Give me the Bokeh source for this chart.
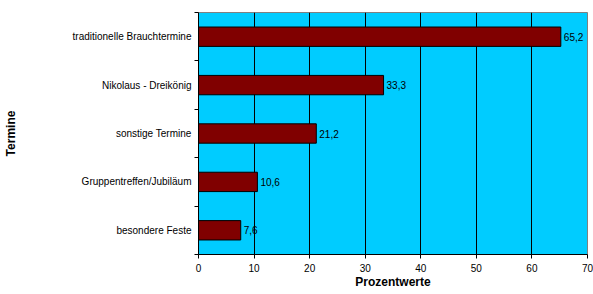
from bokeh.plotting import figure
from bokeh.models import Range1d, FixedTicker, ColumnDataSource
from bokeh.embed import file_html
from bokeh.resources import INLINE
from bokeh.core.properties import value

categories = ["traditionelle Brauchtermine", "Nikolaus - Dreikönig", "sonstige Termine",
              "Gruppentreffen/Jubiläum", "besondere Feste"]
values = [65.2, 33.3, 21.2, 10.6, 7.6]
x_ticks = [0, 10, 20, 30, 40, 50, 60, 70]

n = len(categories)
ypos = [i + 0.5 for i in range(n)]
labels = [f"{v:.1f}".replace(".", ",") for v in values]
src = ColumnDataSource(dict(y=ypos, v=values, lab=labels))

FONT = "Liberation Sans"

p = figure(width=593, height=294, output_backend="svg", toolbar_location=None,
           x_range=Range1d(0, 70), y_range=Range1d(n, 0),
           min_border_left=198, min_border_right=6, min_border_top=12, min_border_bottom=40)
p.background_fill_color = "#00CCFF"
p.border_fill_color = "white"
p.outline_line_color = "#808080"

p.hbar(y="y", left=0, right="v", height=0.4, source=src,
       fill_color="#800000", line_color="black", line_width=1)
p.text(x="v", y="y", text="lab", source=src, x_offset=3,
       text_baseline="middle", text_align="left", text_font=value(FONT),
       text_font_size="10px", text_color="black")

# x axis
p.xaxis.ticker = FixedTicker(ticks=x_ticks)
p.xaxis.axis_label = "Prozentwerte"
p.xaxis.axis_label_text_font = FONT
p.xaxis.axis_label_text_font_style = "bold"
p.xaxis.axis_label_text_font_size = "12px"
p.xaxis.axis_label_text_color = "black"
p.xaxis.axis_label_standoff = 0
p.xaxis.major_label_text_font = FONT
p.xaxis.major_label_text_font_size = "10px"
p.xaxis.major_label_text_color = "black"
p.xaxis.major_label_standoff = 5
p.xaxis.major_tick_in = 0
p.xaxis.major_tick_out = 4
p.xaxis.minor_tick_line_color = None
p.xaxis.axis_line_color = "black"
p.xaxis.major_tick_line_color = "black"

# y axis
p.yaxis.ticker = FixedTicker(ticks=ypos, minor_ticks=list(range(n + 1)))
p.yaxis.major_label_overrides = {y: c for y, c in zip(ypos, categories)}
p.yaxis.axis_label = "Termine"
p.yaxis.axis_label_text_font = FONT
p.yaxis.axis_label_text_font_style = "bold"
p.yaxis.axis_label_text_font_size = "12px"
p.yaxis.axis_label_text_color = "black"
p.yaxis.axis_label_standoff = 52
p.yaxis.major_label_text_font = FONT
p.yaxis.major_label_text_font_size = "10px"
p.yaxis.major_label_text_color = "black"
p.yaxis.major_label_standoff = 3
p.yaxis.major_tick_line_color = None
p.yaxis.major_tick_out = 4
p.yaxis.minor_tick_in = 0
p.yaxis.minor_tick_out = 4
p.yaxis.minor_tick_line_color = "black"
p.yaxis.axis_line_color = "black"

p.xgrid.ticker = FixedTicker(ticks=x_ticks[1:-1])
p.xgrid.grid_line_color = "black"
p.ygrid.grid_line_color = None

open("out.html", "w").write(file_html(p, INLINE))
